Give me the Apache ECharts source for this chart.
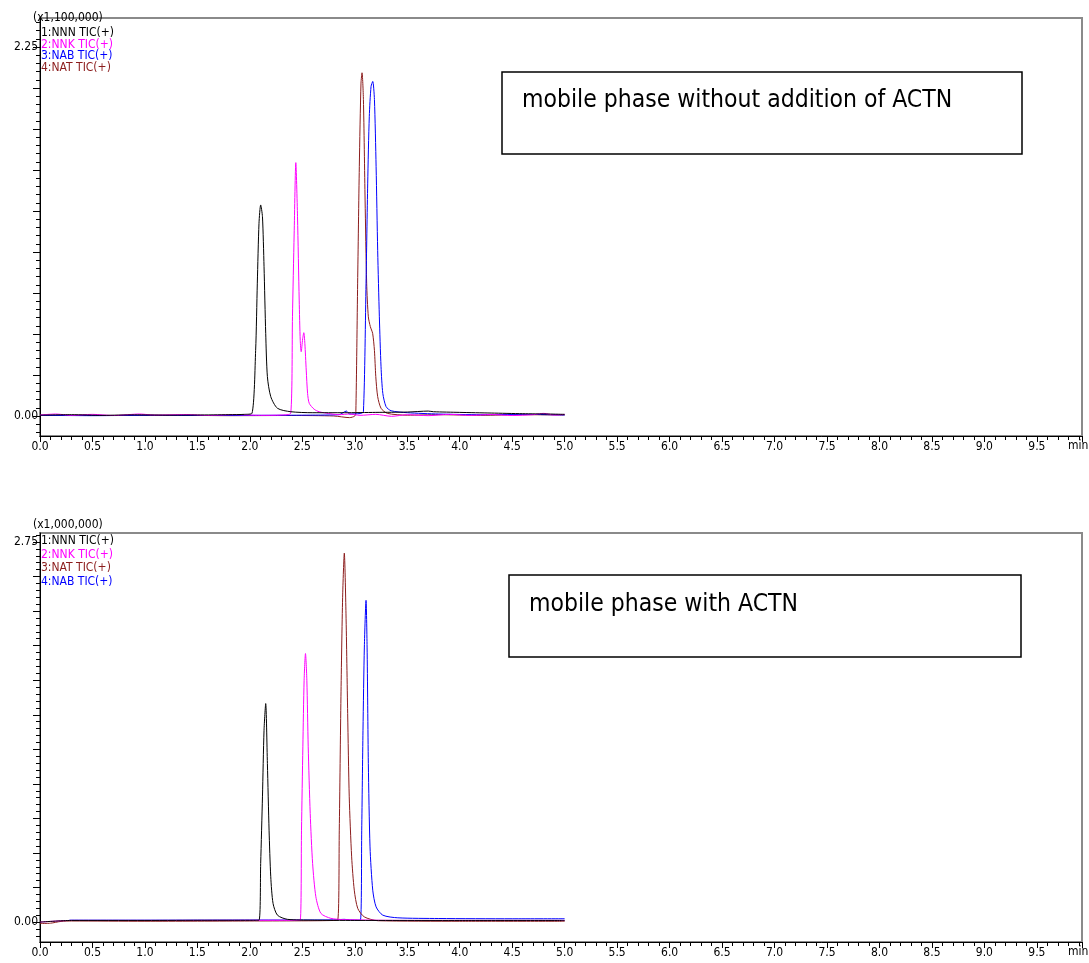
<!DOCTYPE html>
<html>
<head>
<meta charset="utf-8">
<script src="https://cdn.jsdelivr.net/npm/echarts@6/dist/echarts.min.js"></script>
<style>
  html, body { margin: 0; padding: 0; background: #fff; }
  #chrom { width: 1089px; height: 963px; }
</style>
</head>
<body>
<div id="chrom"></div>
<script>
// 크로마토그램 데이터 [min, 강도]
// 위: ACTN 없는 이동상 (x1,100,000)
var nnnTop = [[0,0.005],[0.3,0.008],[0.6,0.004],[0.9,0.007],[1.2,0.005],[1.5,0.006],[1.8,0.008],[1.95,0.01],[2.02,0.016],[2.055,0.40],[2.071,0.81],[2.087,1.175],[2.103,1.287],[2.12,1.215],[2.135,0.91],[2.151,0.504],[2.167,0.24],[2.199,0.118],[2.263,0.047],[2.39,0.026],[2.6,0.02],[2.9,0.02],[3.2,0.022],[3.5,0.024],[3.7,0.03],[3.75,0.026],[4.0,0.022],[4.3,0.018],[4.6,0.014],[4.85,0.012],[5.0,0.01]];
var nnkTop = [[0,0.006],[0.15,0.012],[0.3,0.004],[0.5,0.01],[0.7,0.003],[0.95,0.012],[1.1,0.005],[1.4,0.009],[1.6,0.003],[1.85,0.008],[2.1,0.004],[2.3,0.006],[2.39,0.018],[2.406,0.605],[2.422,1.11],[2.438,1.545],[2.454,1.215],[2.47,0.707],[2.48,0.46],[2.489,0.392],[2.503,0.47],[2.514,0.508],[2.524,0.443],[2.537,0.28],[2.55,0.138],[2.566,0.077],[2.613,0.041],[2.66,0.026],[2.75,0.015],[2.85,0.008],[2.95,0.012],[3.05,0.004],[3.2,0.01],[3.35,-0.002],[3.5,0.008],[3.7,0.002],[3.9,0.01],[4.1,0.004],[4.3,0.009],[4.5,0.003],[4.7,0.008],[4.8,0.016],[4.9,0.006],[5.0,0.01]];
var nabTop = [[0,0.004],[0.5,0.002],[1.0,0.004],[1.5,0.003],[2.0,0.004],[2.5,0.005],[2.85,0.008],[2.92,0.03],[2.95,0.012],[3.05,0.015],[3.082,0.026],[3.107,0.81],[3.123,1.42],[3.138,1.825],[3.155,2.01],[3.171,2.04],[3.187,1.93],[3.203,1.52],[3.218,1.01],[3.234,0.605],[3.25,0.30],[3.267,0.138],[3.298,0.057],[3.346,0.032],[3.5,0.02],[3.8,0.012],[4.2,0.008],[4.6,0.01],[5.0,0.006]];
var natTop = [[0,0.004],[0.6,0.003],[1.2,0.005],[1.8,0.002],[2.4,0.003],[2.8,0.0],[2.95,-0.01],[3.0,0.0],[3.01,0.026],[3.027,0.81],[3.043,1.52],[3.059,2.03],[3.069,2.093],[3.082,1.93],[3.098,1.317],[3.113,0.81],[3.129,0.605],[3.148,0.545],[3.17,0.504],[3.187,0.40],[3.2,0.24],[3.218,0.118],[3.25,0.047],[3.31,0.016],[3.5,0.005],[3.8,0.008],[4.2,0.004],[4.6,0.008],[5.0,0.006]];

// 아래: ACTN 포함 이동상 (x1,000,000)
var nnnBot = [[0,0.0],[0.3,0.012],[1.0,0.012],[1.6,0.013],[2.0,0.013],[2.087,0.014],[2.103,0.424],[2.12,0.906],[2.135,1.388],[2.151,1.581],[2.167,1.147],[2.183,0.665],[2.199,0.328],[2.221,0.135],[2.263,0.05],[2.358,0.02],[2.6,0.014],[3.0,0.012],[4.0,0.012],[5.0,0.012]];
var nnkBot = [[0,0.0],[0.3,0.012],[1.0,0.012],[2.0,0.013],[2.479,0.014],[2.492,0.665],[2.505,1.268],[2.517,1.75],[2.53,1.943],[2.543,1.75],[2.556,1.268],[2.575,0.786],[2.598,0.424],[2.629,0.183],[2.677,0.063],[2.772,0.027],[2.9,0.018],[3.5,0.012],[5.0,0.012]];
var natBot = [[0,-0.01],[0.1,-0.008],[0.2,0.005],[0.3,0.008],[1.0,0.006],[2.0,0.008],[2.836,0.014],[2.852,0.665],[2.868,1.63],[2.884,2.35],[2.9,2.67],[2.916,2.23],[2.932,1.51],[2.947,0.906],[2.97,0.472],[2.995,0.231],[3.028,0.099],[3.09,0.038],[3.22,0.01],[4.0,0.006],[5.0,0.006]];
var nabBot = [[0.28,0.014],[1.0,0.014],[2.0,0.015],[2.8,0.016],[2.9,0.02],[2.95,0.016],[3.053,0.014],[3.066,0.665],[3.078,1.388],[3.091,1.99],[3.107,2.328],[3.117,1.99],[3.129,1.147],[3.145,0.544],[3.171,0.231],[3.203,0.11],[3.267,0.05],[3.41,0.031],[3.8,0.026],[4.5,0.024],[5.0,0.024]];

// 눈금
var yMajorTop = [0,0.25,0.5,0.75,1.0,1.25,1.5,1.75,2.0,2.25];
var yLabelTop = [0,2.25];
var yMajorBot = [0,0.25,0.5,0.75,1.0,1.25,1.5,1.75,2.0,2.25,2.5,2.75];
var yLabelBot = [0,2.75];
var legendTop = ['1:NNN TIC(+)','2:NNK TIC(+)','3:NAB TIC(+)','4:NAT TIC(+)'];
var legendBot = ['1:NNN TIC(+)','2:NNK TIC(+)','3:NAT TIC(+)','4:NAB TIC(+)'];

var cBlack = '#000000', cPink = '#ff00ff', cBlue = '#0000ff', cRed = '#8b1c1c';
var colTop = [cBlack, cPink, cBlue, cRed];
var colBot = [cBlack, cPink, cRed, cBlue];
var FONT = 'DejaVu Sans Condensed';

function minorTicks(lo, hi) {
  var arr = [];
  for (var v = lo; v <= hi + 1e-9; v += 0.05) arr.push(Math.round(v * 100) / 100);
  return arr;
}

var dom = document.getElementById("chrom");
var myChart = echarts.init(dom);

function xAxisOf(i) {
  return {
    type: 'value', gridIndex: i, min: 0, max: 9.93, interval: 0.5,
    axisLine: { onZero: false, lineStyle: { color: '#000', width: 1 } },
    axisTick: { length: 6, lineStyle: { color: '#000' } },
    minorTick: { show: true, splitNumber: 5, length: 4, lineStyle: { color: '#000' } },
    splitLine: { show: false },
    axisLabel: {
      color: '#000', fontSize: 12, fontFamily: FONT, margin: 5,
      formatter: function (v) { return v > 9.6 ? '' : v.toFixed(1); }
    }
  };
}

function yAxesOf(i, lo, hi, major, labels) {
  return [{
    type: 'value', gridIndex: i, min: lo, max: hi, position: 'left',
    axisLine: { show: true, onZero: false, lineStyle: { color: '#000', width: 1 } },
    axisTick: { show: true, length: 7, customValues: major, lineStyle: { color: '#000' } },
    splitLine: { show: false },
    axisLabel: {
      customValues: labels, color: '#000', fontSize: 12, fontFamily: FONT, margin: 2,
      formatter: function (v) { return v.toFixed(2); }
    }
  }, {
    type: 'value', gridIndex: i, min: lo, max: hi, position: 'left', offset: 0,
    axisLine: { show: false, onZero: false },
    axisTick: { show: true, length: 4, customValues: minorTicks(-0.1, hi), lineStyle: { color: '#000' } },
    splitLine: { show: false },
    axisLabel: { show: false }
  }];
}

function lineOf(name, data, color, xi, yi) {
  return {
    name: name, type: 'line', data: data, xAxisIndex: xi, yAxisIndex: yi,
    showSymbol: false, symbol: 'none', smooth: 0.25,
    lineStyle: { color: color, width: 1 }, silent: true, animation: false
  };
}

function legendText(list, colors, x, y0, dy) {
  return list.map(function (t, k) {
    return { type: 'text', left: x, top: y0 + k * dy,
      style: { text: t, fill: colors[k], font: '12px "' + FONT + '"' } };
  });
}

var option = {
  animation: false,
  grid: [
    { left: 40, top: 18, width: 1042, height: 418, show: true, borderColor: '#8a8a8a', borderWidth: 2 },
    { left: 40, top: 533, width: 1042, height: 409, show: true, borderColor: '#8a8a8a', borderWidth: 2 }
  ],
  xAxis: [xAxisOf(0), xAxisOf(1)],
  yAxis: yAxesOf(0, -0.122, 2.427, yMajorTop, yLabelTop)
    .concat(yAxesOf(1, -0.144, 2.815, yMajorBot, yLabelBot)),
  series: [
    lineOf('NAT', natTop, cRed, 0, 0),
    lineOf('NAB', nabTop, cBlue, 0, 0),
    lineOf('NNK', nnkTop, cPink, 0, 0),
    lineOf('NNN', nnnTop, cBlack, 0, 0),
    lineOf('NAB', nabBot, cBlue, 1, 2),
    lineOf('NAT', natBot, cRed, 1, 2),
    lineOf('NNK', nnkBot, cPink, 1, 2),
    lineOf('NNN', nnnBot, cBlack, 1, 2)
  ],
  graphic: [
    { type: 'text', left: 33, top: 12, style: { text: '(x1,100,000)', fill: '#000', font: '12px "' + FONT + '"' } },
    { type: 'text', left: 33, top: 519, style: { text: '(x1,000,000)', fill: '#000', font: '12px "' + FONT + '"' } },
    { type: 'text', left: 1068, top: 440, style: { text: 'min', fill: '#000', font: '12px "' + FONT + '"' } },
    { type: 'text', left: 1068, top: 946, style: { text: 'min', fill: '#000', font: '12px "' + FONT + '"' } },
    { type: 'rect', shape: { x: 502, y: 72, width: 520, height: 82 }, style: { fill: 'none', stroke: '#000', lineWidth: 1.5 } },
    { type: 'text', left: 522, top: 88, style: { text: 'mobile phase without addition of ACTN', fill: '#000', font: '24.5px "' + FONT + '"' } },
    { type: 'rect', shape: { x: 509, y: 575, width: 512, height: 82 }, style: { fill: 'none', stroke: '#000', lineWidth: 1.5 } },
    { type: 'text', left: 529, top: 592, style: { text: 'mobile phase with ACTN', fill: '#000', font: '24.5px "' + FONT + '"' } }
  ].concat(legendText(legendTop, colTop, 41, 27, 11.5))
   .concat(legendText(legendBot, colBot, 41, 535, 13.5))
};

if (option && typeof option === 'object') {
  myChart.setOption(option);
}
</script>
</body>
</html>
